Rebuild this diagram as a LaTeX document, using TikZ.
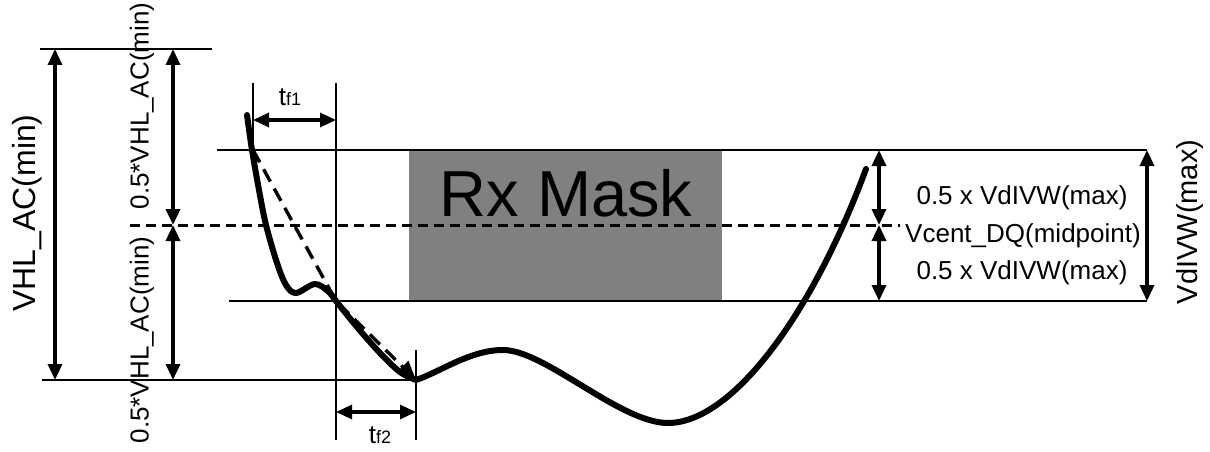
\documentclass[tikz,border=0pt]{standalone}
\usepackage{fontspec}
\setmainfont{Liberation Sans}
\usetikzlibrary{arrows.meta}
\begin{document}
\begin{tikzpicture}[x=1pt,y=-1pt,
  thinline/.style={line width=2.3pt},
  dimarrow/.style={line width=3.4pt,{Triangle[length=16pt,width=14pt]}-{Triangle[length=16pt,width=14pt]}},
  wave/.style={line width=6pt,line cap=round,line join=round},
  midline/.style={line width=3pt,dash pattern=on 10pt off 6pt},
  slope/.style={line width=3.4pt,dash pattern=on 14pt off 8pt,-{Triangle[length=19pt,width=16pt]}},
  lbl/.style={inner sep=0pt,font=\fontsize{26}{30}\selectfont},
  tlbl/.style={inner sep=0pt,font=\fontsize{26}{30}\selectfont},
]
\useasboundingbox (0,0) rectangle (1210,452);

% mask
\fill[gray] (409,150) rectangle (722,301);
\node[inner sep=0pt,anchor=base,font=\fontsize{65}{70}\selectfont] (mask) at (566,216) {Rx Mask};

% coordinates
\coordinate (vtopL) at (40,49);
\coordinate (vtopR) at (212,49);
\coordinate (vbotL) at (42,380);
\coordinate (vbotR) at (416,380);
\coordinate (a1t) at (55,49);
\coordinate (a1b) at (55,380);
\coordinate (a2t) at (173,49);
\coordinate (a2m) at (173,225);
\coordinate (a2b) at (173,380);
\coordinate (mtL) at (217,150);
\coordinate (mtR) at (1147,150);
\coordinate (mbL) at (229,301);
\coordinate (mbR) at (1147,301);
\coordinate (dL) at (130,225);
\coordinate (dR) at (900,225);
\coordinate (r1t) at (879,150);
\coordinate (r1m) at (879,225);
\coordinate (r1b) at (879,301);
\coordinate (r2t) at (1147,150);
\coordinate (r2b) at (1147,301);
\coordinate (v1t) at (253,83);
\coordinate (v1b) at (253,150);
\coordinate (v2t) at (336,83);
\coordinate (v2b) at (336,440);
\coordinate (v3t) at (416,350);
\coordinate (v3b) at (416,440);
\coordinate (tf1L) at (253,120);
\coordinate (tf1R) at (336,120);
\coordinate (tf2L) at (336,412);
\coordinate (tf2R) at (416,412);
\coordinate (cross) at (336,301);

% reference lines
\draw[thinline] (vtopL) -- (vtopR);
\draw[thinline] (vbotL) -- (vbotR);
\draw[thinline] (mtL) -- (mtR);
\draw[thinline] (mbL) -- (mbR);
\draw[thinline] (v1t) -- (v1b);
\draw[thinline] (v2t) -- (v2b);
\draw[thinline] (v3t) -- (v3b);
\draw[midline] (dL) -- (dR);

% dimension arrows
\draw[dimarrow] (a1t) -- (a1b);
\draw[dimarrow] (a2t) -- (a2m);
\draw[dimarrow] (a2m) -- (a2b);
\draw[dimarrow] (r1t) -- (r1m);
\draw[dimarrow] (r1m) -- (r1b);
\draw[dimarrow] (r2t) -- (r2b);
\draw[dimarrow] (tf1L) -- (tf1R);
\draw[dimarrow] (tf2L) -- (tf2R);

% slope
\draw[slope] (v1b) -- (cross) -- (vbotR);

% waveform
\draw[wave] plot[smooth,tension=0.55] coordinates {
 (247,115) (252,150) (259,190) (266,225) (277,263) (286,285) (296,293)
 (315,284) (329,292) (336,301) (357,327) (380,353) (400,372) (416,380)}
 .. controls (440,372) and (470,350) .. (503,350)
 .. controls (545,350) and (620,423) .. (668,423)
 .. controls (730,423) and (810,320) .. (866,169);

% labels
\node[inner sep=0pt,rotate=90,font=\fontsize{32}{36}\selectfont] (vhl) at (27,213) {VHL\_AC(min)};
\node[lbl,rotate=90] (halfup) at (142,106) {0.5*VHL\_AC(min)};
\node[lbl,rotate=90] (halfdn) at (142,340) {0.5*VHL\_AC(min)};
\node[inner sep=0pt,rotate=90,font=\fontsize{29}{34}\selectfont] (vdivw) at (1190,222) {VdIVW(max)};
\node[lbl,anchor=base] (hu) at (1022,204) {0.5 x VdIVW(max)};
\node[lbl,anchor=base] (vc) at (1023,242) {Vcent\_DQ(midpoint)};
\node[lbl,anchor=base] (hd) at (1022,279) {0.5 x VdIVW(max)};
\node[tlbl,anchor=base] (tf1) at (290,105) {t{\fontsize{18}{20}\selectfont f1}};
\node[tlbl,anchor=base] (tf2) at (380,443) {t{\fontsize{18}{20}\selectfont f2}};
\end{tikzpicture}
\end{document}
